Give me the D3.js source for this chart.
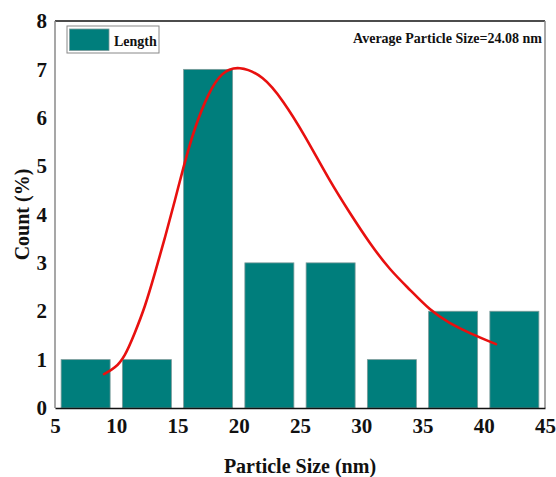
<!DOCTYPE html>
<html>
<head>
<meta charset="utf-8">
<script src="https://cdn.jsdelivr.net/npm/d3@7"></script>
<style>
  body { margin: 0; background: #fff; }
  text { font-family: "Liberation Serif", "Times New Roman", serif; font-weight: bold; }
</style>
</head>
<body>
<svg id="chart"></svg>
<script>
// histogram bins (bin centre, nm) and counts
var binCenters = [7.5, 12.5, 17.5, 22.5, 27.5, 32.5, 37.5, 42.5];
var counts = [1, 1, 7, 3, 3, 1, 2, 2];

// fitted curve
var fitX = [9.0, 9.9, 10.7, 11.5, 12.35, 13.15, 14.0, 14.8, 15.5, 16.4, 17.5, 18.6, 20, 22, 23.6, 25.3, 27.45, 29.1, 30.7, 32.35, 34.0, 35.6, 37.2, 38.9, 41.0];
var fitY = [0.70, 0.82, 1.06, 1.54, 2.09, 2.78, 3.54, 4.30, 5.0, 5.8, 6.5, 6.95, 7.08, 6.87, 6.36, 5.68, 4.68, 4.02, 3.40, 2.85, 2.44, 2.02, 1.75, 1.54, 1.32];

var xTicks = [5, 10, 15, 20, 25, 30, 35, 40, 45];
var yTicks = [0, 1, 2, 3, 4, 5, 6, 7, 8];

var width = 556, height = 477;
var margin = { top: 21, right: 11, bottom: 69, left: 55 };

var svg = d3.select('#chart').attr('width', width).attr('height', height);

var x = d3.scaleLinear().domain([5, 45]).range([margin.left, width - margin.right]);
var y = d3.scaleLinear().domain([0, 8]).range([height - margin.bottom, margin.top]);

// bars
svg.append('g')
  .selectAll('rect')
  .data(counts)
  .enter().append('rect')
    .attr('x', function (d, i) { return x(binCenters[i] - 2) })
    .attr('width', function (d, i) { return x(binCenters[i] + 2) - x(binCenters[i] - 2) })
    .attr('y', function (d) { return y(d) })
    .attr('height', function (d) { return y(0) - y(d) })
    .attr('fill', '#007e7c')
    .attr('stroke', '#7a9a99')
    .attr('stroke-width', 0.8);

// fit curve
var fitPoints = fitX.map(function (v, i) { return [v, fitY[i]] });
var line = d3.line()
  .x(function (d) { return x(d[0]) })
  .y(function (d) { return y(d[1]) })
  .curve(d3.curveBasis);

svg.append('path')
  .datum(fitPoints)
  .attr('d', line)
  .attr('fill', 'none')
  .attr('stroke', '#e8100f')
  .attr('stroke-width', 2.6)
  .attr('stroke-linecap', 'round');

// frame: top/bottom black, left/right grey
var x0 = x(5), x1 = x(45), y0 = y(0), y1 = y(8);
svg.append('line').attr('x1', x0).attr('x2', x1).attr('y1', y1).attr('y2', y1).attr('stroke', '#111').attr('stroke-width', 1.3);
svg.append('line').attr('x1', x0).attr('x2', x0).attr('y1', y1).attr('y2', y0).attr('stroke', '#8a8a8a').attr('stroke-width', 1.5);
svg.append('line').attr('x1', x1).attr('x2', x1).attr('y1', y1).attr('y2', y0).attr('stroke', '#8a8a8a').attr('stroke-width', 1.5);

// axes (no tick marks)
var xAxis = svg.append('g')
  .attr('transform', 'translate(0,' + y0 + ')')
  .call(d3.axisBottom(x).tickValues(xTicks).tickSize(0).tickPadding(10).tickFormat(d3.format('d')));
xAxis.select('.domain').attr('stroke', '#111').attr('stroke-width', 1.6);
xAxis.selectAll('text')
  .attr('font-size', 21)
  .attr('font-family', '"Liberation Serif", serif')
  .attr('font-weight', 'bold')
  .attr('fill', '#111');

var yAxis = svg.append('g')
  .attr('transform', 'translate(' + x0 + ',0)')
  .call(d3.axisLeft(y).tickValues(yTicks).tickSize(0).tickPadding(8).tickFormat(d3.format('d')));
yAxis.select('.domain').remove();
yAxis.selectAll('text')
  .attr('font-size', 21)
  .attr('font-family', '"Liberation Serif", serif')
  .attr('font-weight', 'bold')
  .attr('fill', '#111');

// axis titles
svg.append('text')
  .attr('x', (x0 + x1) / 2)
  .attr('y', 473)
  .attr('text-anchor', 'middle')
  .attr('font-size', 20)
  .attr('fill', '#111')
  .text('Particle Size (nm)');

svg.append('text')
  .attr('transform', 'translate(29,' + ((y0 + y1) / 2) + ') rotate(-90)')
  .attr('text-anchor', 'middle')
  .attr('font-size', 20)
  .attr('fill', '#111')
  .text('Count (%)');

// legend
var legend = svg.append('g');
legend.append('rect')
  .attr('x', 67).attr('y', 26).attr('width', 92).attr('height', 27)
  .attr('fill', '#fff').attr('stroke', '#888').attr('stroke-width', 1);
legend.append('rect')
  .attr('x', 69.5).attr('y', 29).attr('width', 39.5).attr('height', 21.5)
  .attr('fill', '#007e7c').attr('stroke', '#7a9a99').attr('stroke-width', 0.8);
legend.append('text')
  .attr('x', 114).attr('y', 45.5)
  .attr('font-size', 14)
  .attr('fill', '#111')
  .text('Length');

// annotation
svg.append('text')
  .attr('x', 542).attr('y', 42.5)
  .attr('text-anchor', 'end')
  .attr('font-size', 14)
  .attr('fill', '#111')
  .text('Average Particle Size=24.08 nm');
</script>
</body>
</html>
